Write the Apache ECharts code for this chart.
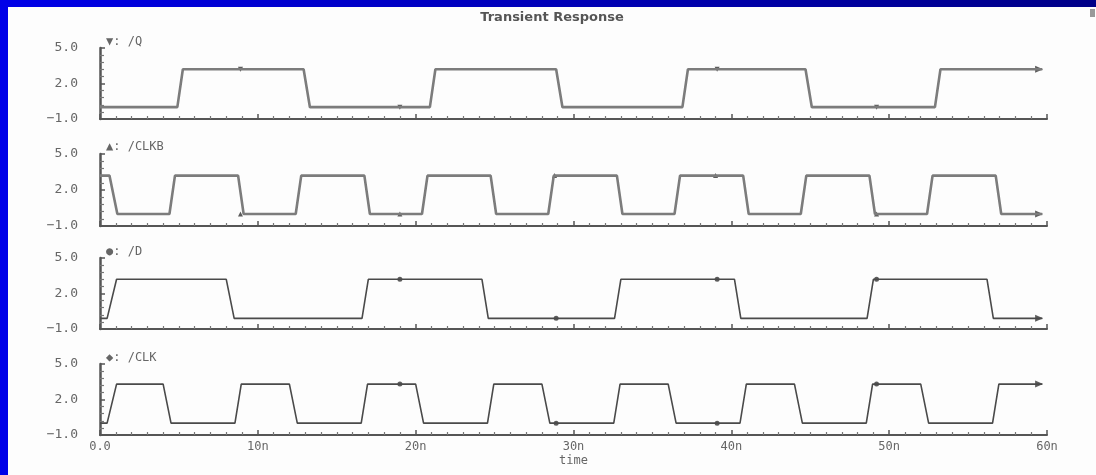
<!DOCTYPE html>
<html>
<head>
<meta charset="utf-8">
<script src="https://cdn.jsdelivr.net/npm/echarts@6/dist/echarts.min.js"></script>
<style>
html,body{margin:0;padding:0;background:#fff;}
#c{width:1096px;height:475px;}
</style>
</head>
<body>
<div id="c"></div>
<script>
// ---- data (time in ns, voltage in V) ----
const titleText = 'Transient Response';
const signalNames = ['▼: /Q', '▲: /CLKB', '●: /D', '◆: /CLK'];
const xTickLabels = ['0.0', '10n', '20n', '30n', '40n', '50n', '60n'];
const yTickLabels = ['−1.0', '2.0', '5.0'];

const qT = [0, 4.9, 5.25, 12.9, 13.3, 20.9, 21.25, 28.9, 29.3, 36.9, 37.25, 44.7, 45.1, 52.9, 53.25, 59.7];
const qV = [0, 0, 3.2, 3.2, 0, 0, 3.2, 3.2, 0, 0, 3.2, 3.2, 0, 0, 3.2, 3.2];

const clkbT = [0, 0.6, 1.1, 4.4, 4.75, 8.75, 9.1, 12.4, 12.75, 16.75, 17.1, 20.4, 20.75, 24.75, 25.1, 28.4, 28.75, 32.75, 33.1, 36.4, 36.75, 40.75, 41.1, 44.4, 44.75, 48.75, 49.1, 52.4, 52.75, 56.75, 57.1, 59.7];
const clkbV = [3.2, 3.2, 0, 0, 3.2, 3.2, 0, 0, 3.2, 3.2, 0, 0, 3.2, 3.2, 0, 0, 3.2, 3.2, 0, 0, 3.2, 3.2, 0, 0, 3.2, 3.2, 0, 0, 3.2, 3.2, 0, 0];

const dT = [0, 0.45, 1.05, 8.0, 8.5, 16.6, 17.0, 24.2, 24.6, 32.6, 33.0, 40.2, 40.6, 48.6, 49.0, 56.2, 56.6, 59.7];
const dV = [-0.1, -0.1, 3.2, 3.2, -0.1, -0.1, 3.2, 3.2, -0.1, -0.1, 3.2, 3.2, -0.1, -0.1, 3.2, 3.2, -0.1, -0.1];

const clkT = [0, 0.45, 1.05, 4.0, 4.5, 8.55, 8.95, 12.0, 12.5, 16.55, 16.95, 20.0, 20.5, 24.55, 24.95, 28.0, 28.5, 32.55, 32.95, 36.0, 36.5, 40.55, 40.95, 44.0, 44.5, 48.55, 48.95, 52.0, 52.5, 56.55, 56.95, 59.7];
const clkV = [0, 0, 3.3, 3.3, 0, 0, 3.3, 3.3, 0, 0, 3.3, 3.3, 0, 0, 3.3, 3.3, 0, 0, 3.3, 3.3, 0, 0, 3.3, 3.3, 0, 0, 3.3, 3.3, 0, 0, 3.3, 3.3];

// marker points on each trace
const qMarkT = [8.9, 19.0, 39.1, 49.2];
const qMarkV = [3.2, 0, 3.2, 0];
const clkbMarkT = [8.9, 19.0, 28.8, 39.0, 49.2];
const clkbMarkV = [0, 0, 3.2, 3.2, 0];
const dMarkT = [19.0, 28.9, 39.1, 49.2];
const dMarkV = [3.2, -0.1, 3.2, 3.2];
const clkMarkT = [19.0, 28.9, 39.1, 49.2];
const clkMarkV = [3.3, 0, 0, 3.3];
const endT = [59.5, 59.5, 59.5, 59.5];
const endV = [3.2, 0, -0.1, 3.3];

// ---- chart ----
const zip = (a, b) => a.map((t, i) => [t, b[i]]);
const traces = [zip(qT, qV), zip(clkbT, clkbV), zip(dT, dV), zip(clkT, clkV)];
const marks = [zip(qMarkT, qMarkV), zip(clkbMarkT, clkbMarkV), zip(dMarkT, dMarkV), zip(clkMarkT, clkMarkV)];
const markSymbols = ['triangle', 'triangle', 'circle', 'circle'];
const markRot = [180, 0, 0, 0];
const lineColors = ['#7c7c7c', '#7c7c7c', '#4a4a4a', '#4a4a4a'];
const lineWidths = [2.6, 2.6, 1.6, 1.6];

const grids = [
  {left: 100, right: 49, top: 48, height: 71},
  {left: 100, right: 49, top: 154, height: 72},
  {left: 100, right: 49, top: 258, height: 71},
  {left: 100, right: 49, top: 364, height: 71}
];

const axisCol = '#555';
const labCol = '#666';
const font = 'DejaVu Sans Mono';

const xAxes = grids.map((g, i) => ({
  type: 'value', gridIndex: i, min: 0, max: 60, interval: 10,
  axisLine: {show: true, onZero: false, lineStyle: {color: axisCol, width: 2}},
  axisTick: {show: true, inside: true, length: 5, lineStyle: {color: axisCol, width: 1.5}},
  minorTick: {show: true, splitNumber: 10, length: 3, lineStyle: {color: '#777', width: 1.2}},
  splitLine: {show: false},
  axisLabel: {
    show: i === 3, color: labCol, fontFamily: font, fontSize: 12, margin: 6,
    formatter: v => xTickLabels[Math.round(v / 10)]
  },
  name: i === 3 ? 'time' : '', nameLocation: 'middle', nameGap: 20,
  nameTextStyle: {color: labCol, fontFamily: font, fontSize: 12}
}));

const yAxes = grids.map((g, i) => ({
  type: 'value', gridIndex: i, min: -1, max: 5, interval: 3,
  axisLine: {show: true, lineStyle: {color: axisCol, width: 2.5}},
  axisTick: {show: true, inside: true, length: 5, lineStyle: {color: axisCol, width: 1.5}},
  minorTick: {show: true, splitNumber: 5, length: 4, lineStyle: {color: '#777', width: 1.2}},
  splitLine: {show: false},
  axisLabel: {
    color: labCol, fontFamily: font, fontSize: 13, margin: 22,
    formatter: v => yTickLabels[Math.round((v + 1) / 3)]
  }
}));

const series = [];
traces.forEach((d, i) => {
  series.push({
    type: 'line', xAxisIndex: i, yAxisIndex: i, data: d, showSymbol: false,
    lineStyle: {color: lineColors[i], width: lineWidths[i]}, silent: true, animation: false
  });
  series.push({
    type: 'scatter', xAxisIndex: i, yAxisIndex: i, data: marks[i],
    symbol: markSymbols[i], symbolSize: 5, symbolRotate: markRot[i],
    itemStyle: {color: '#333'}, silent: true, animation: false
  });
  series.push({
    type: 'scatter', xAxisIndex: i, yAxisIndex: i, data: [[endT[i], endV[i]]],
    symbol: 'triangle', symbolSize: [7, 8], symbolRotate: -90,
    itemStyle: {color: '#333'}, silent: true, animation: false
  });
});

const labelTops = [36, 141, 246, 352];
const graphics = [
  {type: 'rect', left: 0, top: 0, shape: {width: 1096, height: 7},
   style: {fill: new echarts.graphic.LinearGradient(0, 0, 1, 0, [{offset: 0, color: '#0000e8'}, {offset: 1, color: '#000088'}])}},
  {type: 'rect', left: 0, top: 0, shape: {width: 8, height: 475}, style: {fill: '#0000e8'}},
  {type: 'rect', left: 1090, top: 9, shape: {width: 5, height: 8}, style: {fill: '#999'}}
];
signalNames.forEach((n, i) => {
  graphics.push({type: 'text', left: 106, top: labelTops[i],
    style: {text: n, fill: labCol, font: '12px "DejaVu Sans Mono"'}});
});

const chart = echarts.init(document.getElementById('c'), null, {renderer: 'canvas'});
chart.setOption({
  animation: false,
  backgroundColor: '#fdfdfd',
  title: {text: titleText, left: 547, top: 6, textAlign: 'center',
    textStyle: {color: '#555', fontFamily: 'DejaVu Sans', fontSize: 13, fontWeight: 'bold'}},
  grid: grids,
  xAxis: xAxes,
  yAxis: yAxes,
  series: series,
  graphic: graphics
});
</script>
</body>
</html>
